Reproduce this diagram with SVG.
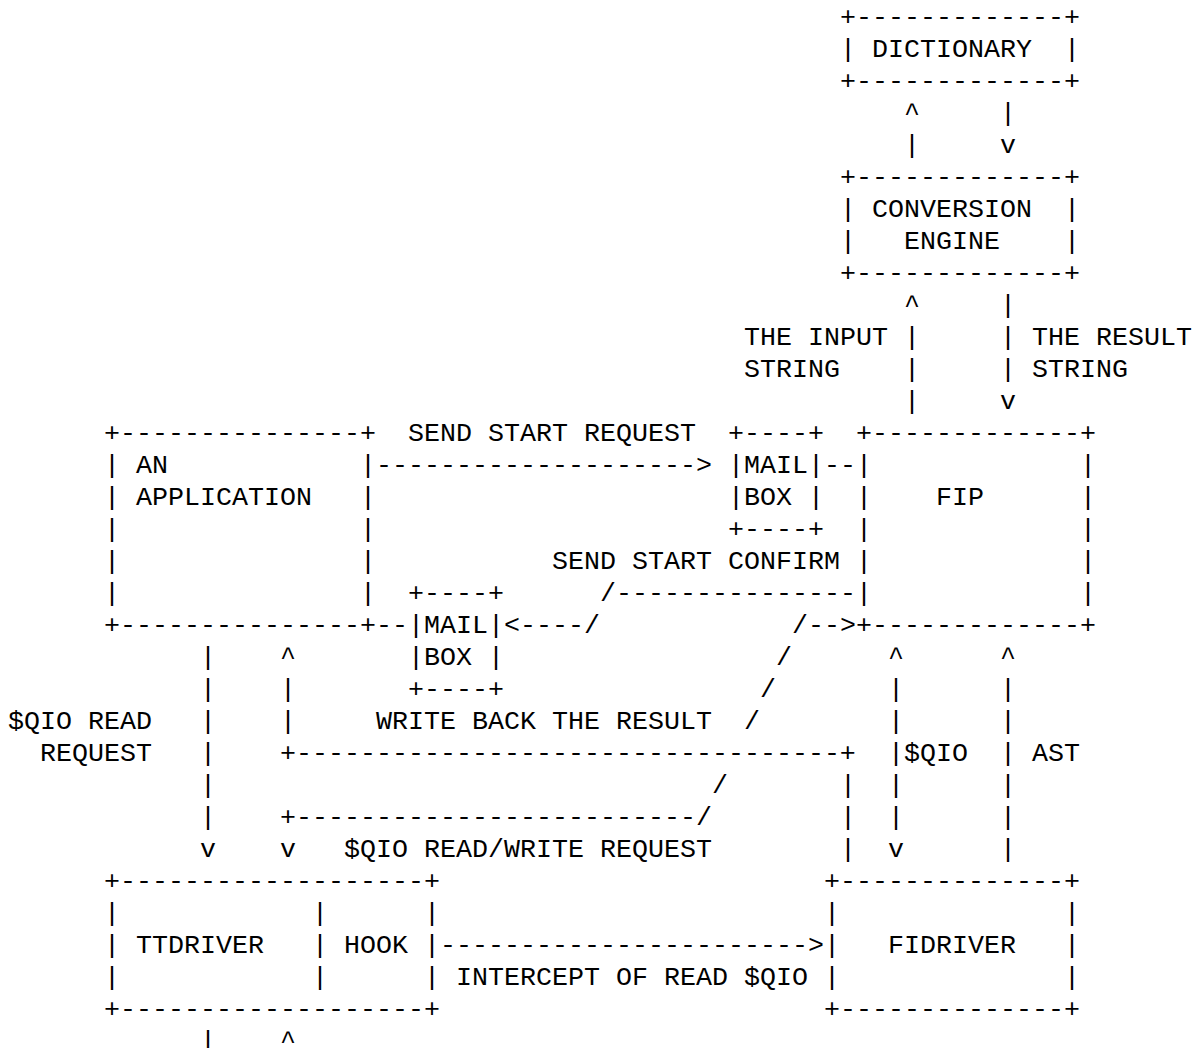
<svg xmlns="http://www.w3.org/2000/svg" width="1200" height="1048" viewBox="0 0 1200 1048" xml:space="preserve">
<style>
text { font-family: "Liberation Mono", "DejaVu Sans Mono", monospace; font-size: 26.667px; fill: #000; }
</style>
<rect x="0" y="0" width="1200" height="1048" fill="#fff"/>
<g id="dictionary">
<text x="840" y="24.5">+-------------+</text>
<text x="840" y="56.5">|</text><text x="872" y="56.5">DICTIONARY</text><text x="1064" y="56.5">|</text>
<text x="840" y="88.5">+-------------+</text>
</g>
<g id="conversion-engine">
<text x="840" y="184.5">+-------------+</text>
<text x="840" y="216.5">|</text><text x="872" y="216.5">CONVERSION</text><text x="1064" y="216.5">|</text>
<text x="840" y="248.5">|</text><text x="904" y="248.5">ENGINE</text><text x="1064" y="248.5">|</text>
<text x="840" y="280.5">+-------------+</text>
</g>
<g id="application">
<text x="104" y="440.5">+---------------+</text>
<text x="104" y="472.5">|</text><text x="136" y="472.5">AN</text><text x="360" y="472.5">|</text>
<text x="104" y="504.5">|</text><text x="136" y="504.5">APPLICATION</text><text x="360" y="504.5">|</text>
<text x="104" y="536.5">|</text><text x="360" y="536.5">|</text>
<text x="104" y="568.5">|</text><text x="360" y="568.5">|</text>
<text x="104" y="600.5">|</text><text x="360" y="600.5">|</text>
<text x="104" y="632.5">+---------------+</text>
</g>
<g id="mailbox-1">
<text x="728" y="440.5">+----+</text>
<text x="728" y="472.5">|MAIL|</text>
<text x="728" y="504.5">|BOX |</text>
<text x="728" y="536.5">+----+</text>
</g>
<g id="fip">
<text x="856" y="440.5">+-------------+</text>
<text x="856" y="472.5">|</text><text x="1080" y="472.5">|</text>
<text x="856" y="504.5">|</text><text x="936" y="504.5">FIP</text><text x="1080" y="504.5">|</text>
<text x="856" y="536.5">|</text><text x="1080" y="536.5">|</text>
<text x="856" y="568.5">|</text><text x="1080" y="568.5">|</text>
<text x="856" y="600.5">|</text><text x="1080" y="600.5">|</text>
<text x="856" y="632.5">+-------------+</text>
</g>
<g id="mailbox-2">
<text x="408" y="600.5">+----+</text>
<text x="408" y="632.5">|MAIL|</text>
<text x="408" y="664.5">|BOX |</text>
<text x="408" y="696.5">+----+</text>
</g>
<g id="ttdriver">
<text x="104" y="888.5">+-------------------+</text>
<text x="104" y="920.5">|</text><text x="312" y="920.5">|</text><text x="424" y="920.5">|</text>
<text x="104" y="952.5">|</text><text x="136" y="952.5">TTDRIVER</text><text x="312" y="952.5">|</text><text x="344" y="952.5">HOOK</text><text x="424" y="952.5">|</text>
<text x="104" y="984.5">|</text><text x="312" y="984.5">|</text><text x="424" y="984.5">|</text>
<text x="104" y="1016.5">+-------------------+</text>
</g>
<g id="fidriver">
<text x="824" y="888.5">+--------------+</text>
<text x="824" y="920.5">|</text><text x="1064" y="920.5">|</text>
<text x="824" y="952.5">|</text><text x="888" y="952.5">FIDRIVER</text><text x="1064" y="952.5">|</text>
<text x="824" y="984.5">|</text><text x="1064" y="984.5">|</text>
<text x="824" y="1016.5">+--------------+</text>
</g>
<g id="connectors">
<text x="904" y="120.5">^</text><text x="1000" y="120.5">|</text>
<text x="904" y="152.5">|</text><text x="1000" y="152.5">v</text>
<text x="904" y="312.5">^</text><text x="1000" y="312.5">|</text>
<text x="744" y="344.5">THE INPUT</text><text x="904" y="344.5">|</text><text x="1000" y="344.5">|</text><text x="1032" y="344.5">THE RESULT</text>
<text x="744" y="376.5">STRING</text><text x="904" y="376.5">|</text><text x="1000" y="376.5">|</text><text x="1032" y="376.5">STRING</text>
<text x="904" y="408.5">|</text><text x="1000" y="408.5">v</text>
<text x="408" y="440.5">SEND START REQUEST</text>
<text x="376" y="472.5">--------------------&gt;</text>
<text x="824" y="472.5">--</text>
<text x="552" y="568.5">SEND START CONFIRM</text>
<text x="600" y="600.5">/---------------</text>
<text x="376" y="632.5">--</text>
<text x="504" y="632.5">&lt;----/</text>
<text x="792" y="632.5">/--&gt;</text>
<text x="200" y="664.5">|</text><text x="280" y="664.5">^</text><text x="776" y="664.5">/</text><text x="888" y="664.5">^</text><text x="1000" y="664.5">^</text>
<text x="200" y="696.5">|</text><text x="280" y="696.5">|</text><text x="760" y="696.5">/</text><text x="888" y="696.5">|</text><text x="1000" y="696.5">|</text>
<text x="8" y="728.5">$QIO READ</text><text x="200" y="728.5">|</text><text x="280" y="728.5">|</text><text x="376" y="728.5">WRITE BACK THE RESULT</text><text x="744" y="728.5">/</text><text x="888" y="728.5">|</text><text x="1000" y="728.5">|</text>
<text x="40" y="760.5">REQUEST</text><text x="200" y="760.5">|</text><text x="280" y="760.5">+----------------------------------+</text><text x="888" y="760.5">|$QIO</text><text x="1000" y="760.5">|</text><text x="1032" y="760.5">AST</text>
<text x="200" y="792.5">|</text><text x="712" y="792.5">/</text><text x="840" y="792.5">|</text><text x="888" y="792.5">|</text><text x="1000" y="792.5">|</text>
<text x="200" y="824.5">|</text><text x="280" y="824.5">+-------------------------/</text><text x="840" y="824.5">|</text><text x="888" y="824.5">|</text><text x="1000" y="824.5">|</text>
<text x="200" y="856.5">v</text><text x="280" y="856.5">v</text><text x="344" y="856.5">$QIO READ/WRITE REQUEST</text><text x="840" y="856.5">|</text><text x="888" y="856.5">v</text><text x="1000" y="856.5">|</text>
<text x="440" y="952.5">-----------------------&gt;</text>
<text x="456" y="984.5">INTERCEPT OF READ $QIO</text>
<text x="200" y="1048.5">|</text><text x="280" y="1048.5">^</text>
</g>
</svg>
